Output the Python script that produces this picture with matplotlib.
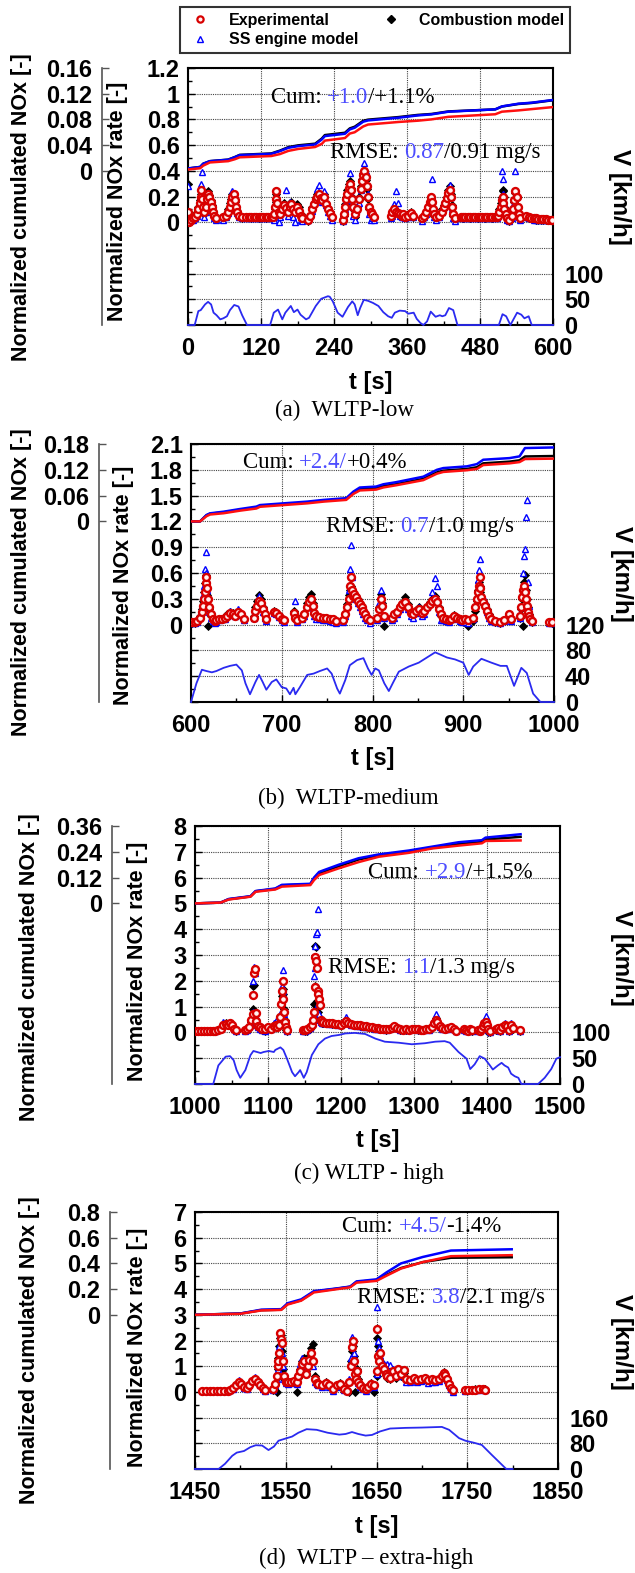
import numpy as np
import matplotlib
matplotlib.use("Agg")
import matplotlib.pyplot as plt
from matplotlib.lines import Line2D
from matplotlib.ticker import MultipleLocator

plt.rcParams['font.family'] = ['Liberation Sans', 'DejaVu Sans']
plt.rcParams['font.weight'] = 'bold'
SERIF = ['Liberation Serif', 'DejaVu Serif']

# ---------------- data ----------------
# (a) WLTP-low : normalized NOx rate
a_t = [0, 2, 5, 9, 12, 15, 17, 19, 21, 22, 23, 25, 27, 29, 31, 33, 35, 37, 39, 41, 43, 46,
       58, 62, 66, 69, 71, 73, 75, 77, 79, 81, 84, 88,
       96, 100, 104, 108, 112, 116, 120, 124, 128, 132, 136, 140,
       142, 143, 144, 145, 147, 149, 152, 155, 158, 161, 164, 167, 170, 173, 176, 179, 182, 185, 188,
       198, 201, 204, 207, 210, 212, 215, 218, 221, 224, 227, 230, 233, 236,
       254, 256, 258, 260, 262, 264, 266, 268, 270, 272, 274, 278, 281, 284, 286, 288, 290, 292, 294, 296, 298, 300, 303, 306,
       333, 336, 339, 342, 345, 348, 351, 354, 357, 362, 366, 370,
       385, 388, 391, 394, 397, 399, 401, 403, 405, 408, 413, 417, 420, 423, 426, 428, 430, 432, 434, 436, 439,
       448, 452, 456, 460, 464, 468, 472, 476, 480, 484, 488, 492, 496, 500, 504, 508,
       510, 512, 514, 516, 517, 518, 520, 522, 524, 528, 532, 534, 536, 538, 540, 542, 544, 546,
       556, 560, 564, 568, 572, 576, 580, 584, 588, 592, 596, 598]
a_exp = [0.08, 0.0, 0.02, 0.03, 0.04, 0.06, 0.10, 0.15, 0.20, 0.25, 0.18, 0.12, 0.08, 0.12, 0.18, 0.22, 0.20, 0.16, 0.12, 0.08, 0.05, 0.03,
         0.04, 0.05, 0.08, 0.12, 0.16, 0.20, 0.22, 0.17, 0.12, 0.08, 0.05, 0.04,
         0.04, 0.04, 0.04, 0.04, 0.04, 0.04, 0.04, 0.04, 0.04, 0.04, 0.04, 0.04,
         0.06, 0.12, 0.18, 0.24, 0.15, 0.08, 0.06, 0.10, 0.13, 0.11, 0.08, 0.12, 0.14, 0.10, 0.08, 0.12, 0.09, 0.05, 0.03,
         0.02, 0.05, 0.10, 0.14, 0.18, 0.20, 0.22, 0.19, 0.17, 0.20, 0.14, 0.10, 0.07, 0.04,
         0.02, 0.06, 0.12, 0.18, 0.22, 0.27, 0.30, 0.25, 0.18, 0.12, 0.06, 0.10, 0.18, 0.26, 0.32, 0.37, 0.40, 0.35, 0.28, 0.20, 0.12, 0.08, 0.06, 0.04,
         0.05, 0.08, 0.10, 0.08, 0.07, 0.06, 0.05, 0.06, 0.04, 0.05, 0.07, 0.05,
         0.03, 0.05, 0.08, 0.12, 0.16, 0.20, 0.16, 0.10, 0.06, 0.04, 0.05, 0.08, 0.12, 0.15, 0.19, 0.23, 0.25, 0.20, 0.12, 0.06, 0.03,
         0.04, 0.04, 0.04, 0.04, 0.04, 0.04, 0.04, 0.04, 0.04, 0.04, 0.04, 0.04, 0.04, 0.04, 0.04, 0.04,
         0.05, 0.08, 0.12, 0.17, 0.20, 0.15, 0.10, 0.06, 0.03, 0.02, 0.05, 0.10, 0.17, 0.24, 0.20, 0.12, 0.06, 0.03,
         0.05, 0.04, 0.035, 0.03, 0.03, 0.025, 0.025, 0.025, 0.025, 0.02, 0.02, 0.02]
a_comb = [0.30, 0.0, 0.01, 0.03, 0.04, 0.08, 0.12, 0.17, 0.19, 0.22, 0.20, 0.14, 0.06, 0.10, 0.20, 0.24, 0.21, 0.17, 0.13, 0.09, 0.05, 0.03,
          0.03, 0.06, 0.10, 0.15, 0.18, 0.22, 0.20, 0.16, 0.12, 0.09, 0.05, 0.03,
          0.04, 0.04, 0.035, 0.04, 0.04, 0.035, 0.04, 0.04, 0.035, 0.04, 0.04, 0.04,
          0.04, 0.10, 0.16, 0.22, 0.13, 0.06, 0.08, 0.12, 0.15, 0.12, 0.10, 0.15, 0.16, 0.12, 0.10, 0.14, 0.12, 0.06, 0.02,
          0.01, 0.04, 0.12, 0.15, 0.20, 0.22, 0.20, 0.20, 0.18, 0.22, 0.15, 0.11, 0.06, 0.03,
          0.01, 0.05, 0.14, 0.20, 0.25, 0.30, 0.32, 0.27, 0.20, 0.10, 0.04, 0.12, 0.20, 0.28, 0.34, 0.38, 0.39, 0.33, 0.26, 0.18, 0.10, 0.06, 0.05, 0.03,
          0.04, 0.07, 0.09, 0.08, 0.06, 0.05, 0.06, 0.05, 0.04, 0.06, 0.08, 0.04,
          0.02, 0.04, 0.08, 0.12, 0.15, 0.18, 0.15, 0.10, 0.05, 0.03, 0.06, 0.10, 0.13, 0.16, 0.20, 0.25, 0.28, 0.22, 0.13, 0.05, 0.02,
          0.04, 0.035, 0.04, 0.04, 0.035, 0.04, 0.04, 0.035, 0.04, 0.04, 0.035, 0.04, 0.04, 0.035, 0.04, 0.04,
          0.06, 0.10, 0.15, 0.20, 0.24, 0.25, 0.20, 0.10, 0.04, 0.01, 0.04, 0.10, 0.16, 0.23, 0.19, 0.11, 0.05, 0.03,
          0.04, 0.03, 0.03, 0.025, 0.02, 0.02, 0.02, 0.02, 0.02, 0.02, 0.02, 0.02]
a_ss = [0.28, 0.01, 0.02, 0.02, 0.03, 0.05, 0.10, 0.16, 0.22, 0.30, 0.39, 0.10, 0.04, 0.08, 0.16, 0.23, 0.22, 0.15, 0.10, 0.06, 0.03, 0.02,
        0.02, 0.04, 0.07, 0.14, 0.19, 0.24, 0.21, 0.15, 0.10, 0.07, 0.04, 0.03,
        0.03, 0.035, 0.03, 0.035, 0.03, 0.03, 0.035, 0.03, 0.03, 0.035, 0.03, 0.03,
        0.02, 0.08, 0.15, 0.20, 0.10, 0.00, 0.04, 0.08, 0.14, 0.25, 0.05, 0.16, 0.12, 0.04, 0.00, 0.10, 0.08, 0.02, 0.01,
        0.02, 0.06, 0.09, 0.16, 0.19, 0.26, 0.29, 0.18, 0.16, 0.24, 0.13, 0.08, 0.05, 0.02,
        0.01, 0.04, 0.10, 0.17, 0.23, 0.28, 0.38, 0.22, 0.15, 0.05, 0.02, 0.10, 0.15, 0.25, 0.33, 0.41, 0.46, 0.40, 0.30, 0.22, 0.06, 0.02, 0.03, 0.02,
        0.03, 0.05, 0.14, 0.24, 0.15, 0.05, 0.04, 0.04, 0.03, 0.04, 0.06, 0.04,
        0.01, 0.04, 0.06, 0.10, 0.15, 0.19, 0.34, 0.08, 0.04, 0.02, 0.04, 0.08, 0.12, 0.17, 0.22, 0.26, 0.29, 0.20, 0.10, 0.03, 0.01,
        0.03, 0.035, 0.03, 0.03, 0.035, 0.03, 0.03, 0.035, 0.03, 0.03, 0.035, 0.03, 0.03, 0.035, 0.03, 0.03,
        0.05, 0.10, 0.20, 0.40, 0.34, 0.22, 0.15, 0.08, 0.02, 0.01, 0.03, 0.09, 0.15, 0.40, 0.22, 0.10, 0.04, 0.02,
        0.04, 0.03, 0.03, 0.02, 0.02, 0.02, 0.02, 0.02, 0.02, 0.015, 0.015, 0.015]
# (a) normalized cumulated NOx
a_cum_t = [0, 20, 25, 36, 66, 77, 85, 137, 151, 165, 181, 209, 220, 225, 258, 266, 274, 288, 296, 346, 378, 400, 428, 505, 516, 543, 565, 598]
a_cum_exp = [0.002, 0.004, 0.008, 0.013, 0.015, 0.018, 0.021, 0.023, 0.026, 0.031, 0.034, 0.037, 0.042, 0.047, 0.051, 0.058, 0.06, 0.069, 0.072, 0.076, 0.078, 0.08, 0.084, 0.088, 0.092, 0.094, 0.096, 0.099]
a_cum_comb = [0.0036, 0.006, 0.011, 0.015, 0.0174, 0.0214, 0.0248, 0.027, 0.0314, 0.0368, 0.0396, 0.0422, 0.0502, 0.0556, 0.0592, 0.066, 0.0686, 0.0778, 0.0796, 0.0836, 0.087, 0.0884, 0.0924, 0.0956, 0.1, 0.104, 0.1056, 0.1096]
a_cum_ss = [0.0036, 0.006, 0.011, 0.015, 0.0172, 0.0212, 0.0244, 0.0264, 0.0306, 0.0358, 0.0384, 0.041, 0.0488, 0.054, 0.0576, 0.0644, 0.067, 0.0764, 0.0784, 0.0826, 0.0862, 0.0878, 0.092, 0.0956, 0.1002, 0.1044, 0.106, 0.110]
# (a) vehicle speed
a_v_t = [0, 11, 17, 21, 28, 33, 38, 42, 47, 53, 58, 64, 69, 76, 83, 89, 97, 135, 141, 148, 155, 160, 169, 174, 180, 185, 194, 199, 210, 219,
         230, 233, 238, 246, 254, 263, 270, 274, 279, 283, 289, 296, 304, 313, 321, 329, 335, 340, 348, 357, 362, 371, 376, 382, 387, 393, 399, 407, 414, 418,
         423, 429, 436, 443, 511, 517, 523, 530, 535, 541, 548, 553, 560, 565, 600]
a_v = [0, 0, 27, 29, 40, 45, 40, 24, 19, 11, 13, 17, 29, 39, 36, 19, 0, 0, 24, 30, 11, 24, 37, 25, 30, 20, 11, 14, 37, 51,
       56, 55, 46, 24, 16, 35, 46, 40, 19, 33, 49, 47, 43, 37, 25, 17, 14, 24, 28, 27, 22, 24, 12, 4, 0, 7, 26, 16, 19, 17,
       19, 33, 29, 0, 0, 21, 17, 0, 11, 24, 20, 13, 17, 0, 0]

# (b) WLTP-medium
b_t = [601, 604, 607, 610, 612, 613, 614, 615, 616, 617, 618, 619, 620, 622, 624, 626,
       628, 631, 634, 637, 640, 643, 646, 649, 652, 655, 658,
       669, 671, 673, 675, 677, 679, 681, 683,
       691, 694, 697, 700, 702,
       713, 715, 717, 722, 725, 728, 730, 732, 734, 736, 738, 741, 745, 749, 753, 757, 760,
       768, 770, 772, 774, 775, 776, 777, 778, 780, 782, 784, 786, 788, 790, 792, 794, 797,
       805, 807, 809, 811, 813,
       821, 824, 827, 830, 833, 836, 839, 842, 845, 848, 851, 854, 857, 860, 863, 866, 869, 871, 873, 875,
       878, 881, 884, 887, 890, 893, 896, 899, 902, 905,
       911, 913, 915, 916, 917, 918, 919, 920, 922, 924, 926, 928, 931, 935, 940, 945, 950, 953,
       962, 964, 965, 966, 967, 968, 969, 970, 971, 972, 974, 976,
       995, 998]
b_exp = [0.03, 0.03, 0.04, 0.08, 0.15, 0.22, 0.30, 0.38, 0.48, 0.55, 0.42, 0.30, 0.20, 0.12, 0.06, 0.04,
         0.05, 0.06, 0.07, 0.08, 0.10, 0.14, 0.12, 0.10, 0.15, 0.12, 0.07,
         0.08, 0.16, 0.22, 0.28, 0.25, 0.18, 0.12, 0.07,
         0.15, 0.14, 0.10, 0.07, 0.05,
         0.14, 0.08, 0.05, 0.08, 0.12, 0.20, 0.26, 0.30, 0.22, 0.14, 0.10, 0.09, 0.08, 0.08, 0.07, 0.06, 0.04,
         0.05, 0.12, 0.20, 0.30, 0.45, 0.55, 0.40, 0.33, 0.36, 0.32, 0.28, 0.24, 0.20, 0.16, 0.12, 0.08, 0.05,
         0.08, 0.18, 0.30, 0.22, 0.10,
         0.08, 0.12, 0.15, 0.20, 0.24, 0.26, 0.20, 0.14, 0.12, 0.16, 0.18, 0.14, 0.16, 0.20, 0.24, 0.28, 0.30, 0.26, 0.18, 0.12,
         0.08, 0.06, 0.05, 0.07, 0.10, 0.08, 0.06, 0.05, 0.06, 0.05,
         0.08, 0.20, 0.30, 0.38, 0.45, 0.55, 0.42, 0.32, 0.26, 0.22, 0.16, 0.10, 0.06, 0.04, 0.03, 0.05, 0.12, 0.06,
         0.10, 0.20, 0.32, 0.40, 0.45, 0.38, 0.30, 0.22, 0.15, 0.10, 0.06, 0.04,
         0.03, 0.03]
b_comb = [0.02, 0.02, 0.03, 0.10, 0.18, 0.28, 0.38, 0.48, 0.58, 0.50, 0.35, -0.02, 0.18, 0.10, 0.05, 0.03,
          0.04, 0.06, 0.07, 0.09, 0.12, 0.15, 0.13, 0.11, 0.14, 0.12, 0.06,
          0.10, 0.20, 0.28, 0.35, 0.30, 0.20, 0.12, 0.06,
          0.16, 0.15, 0.11, 0.06, 0.04,
          0.16, 0.10, 0.04, 0.10, 0.14, 0.25, 0.32, 0.36, 0.25, 0.12, 0.10, 0.09, 0.08, 0.07, 0.06, 0.05, 0.03,
          0.04, 0.14, 0.24, 0.34, 0.40, 0.45, 0.38, 0.36, 0.35, 0.33, 0.30, 0.25, 0.20, 0.16, 0.11, 0.07, 0.04,
          0.06, 0.20, 0.36, 0.25, -0.02,
          0.06, 0.10, 0.16, 0.22, 0.25, 0.32, 0.24, 0.15, 0.13, 0.17, 0.20, 0.15, 0.17, 0.22, 0.26, 0.30, 0.33, 0.28, 0.20, 0.10,
          0.07, 0.06, 0.05, 0.08, 0.11, 0.09, 0.06, 0.05, 0.04, -0.02,
          0.04, 0.16, 0.28, 0.40, 0.50, 0.45, 0.38, 0.30, 0.28, 0.24, 0.18, 0.12, 0.06, 0.03, 0.02, 0.05, 0.11, 0.05,
          0.08, 0.18, 0.30, -0.02, 0.50, 0.58, 0.40, 0.30, 0.20, 0.12, 0.05, 0.03,
          0.03, 0.02]
b_ss = [0.02, 0.02, 0.03, 0.12, 0.20, 0.35, 0.45, 0.65, 0.84, 0.60, 0.40, 0.25, 0.15, 0.08, 0.04, 0.02,
        0.03, 0.05, 0.06, 0.07, 0.10, 0.16, 0.11, 0.10, 0.18, 0.11, 0.05,
        0.08, 0.18, 0.25, 0.33, 0.28, 0.15, 0.08, 0.04,
        0.14, 0.12, 0.09, 0.05, 0.03,
        0.12, 0.28, 0.03, 0.06, 0.10, 0.20, 0.28, 0.30, 0.18, 0.10, 0.07, 0.06, 0.05, 0.05, 0.04, 0.03, 0.02,
        0.03, 0.10, 0.22, 0.40, 0.65, 0.92, 0.55, 0.40, 0.38, 0.30, 0.25, 0.20, 0.16, 0.12, 0.08, 0.05, 0.02,
        0.05, 0.25, 0.40, 0.28, 0.08,
        0.05, 0.08, 0.12, 0.18, 0.22, 0.25, 0.18, 0.10, 0.08, 0.14, 0.20, 0.10, 0.12, 0.20, 0.28, 0.38, 0.54, 0.45, 0.15, 0.05,
        0.05, 0.04, 0.03, 0.06, 0.10, 0.07, 0.04, 0.03, 0.03, 0.02,
        0.06, 0.22, 0.32, 0.52, 0.64, 0.76, 0.45, 0.30, 0.32, 0.28, 0.15, 0.08, 0.04, 0.03, 0.02, 0.04, 0.10, 0.04,
        0.08, 0.20, 0.35, 0.60, 0.80, 0.88, 1.25, 1.45, 0.50, 0.22, 0.08, 0.03,
        0.02, 0.02]
b_cum_t = [600, 610, 617, 621, 636, 654, 672, 676, 702, 728, 746, 771, 779, 786, 804, 812, 826, 856, 871, 878, 904, 915, 922, 951, 962, 968, 1000]
b_cum_exp = [0, 0, 0.012, 0.016, 0.019, 0.025, 0.03, 0.034, 0.038, 0.042, 0.046, 0.05, 0.064, 0.072, 0.074, 0.079, 0.084, 0.096, 0.111, 0.115, 0.119, 0.122, 0.131, 0.135, 0.138, 0.145, 0.146]
b_cum_comb = [0, 0, 0.014, 0.018, 0.021, 0.027, 0.032, 0.036, 0.04, 0.044, 0.048, 0.052, 0.066, 0.075, 0.077, 0.082, 0.0864, 0.099, 0.114, 0.118, 0.122, 0.126, 0.135, 0.139, 0.142, 0.151, 0.152]
b_cum_ss = [0, 0, 0.0148, 0.0188, 0.0226, 0.0288, 0.0344, 0.038, 0.042, 0.046, 0.05, 0.054, 0.0694, 0.0788, 0.081, 0.0864, 0.0912, 0.104, 0.12, 0.124, 0.128, 0.1332, 0.1434, 0.1472, 0.1512, 0.1706, 0.172]
b_v_t = [600, 606, 612, 617, 623, 628, 636, 643, 650, 656, 660, 665, 671, 675, 679, 683, 689, 694, 700, 705,
         709, 713, 715, 720, 728, 735, 742, 750, 755, 761, 764, 770, 775, 783, 790, 795, 799, 803, 807, 813,
         818, 823, 829, 840, 851, 860, 869, 874, 882, 891, 900, 906, 911, 920, 931, 941, 948, 956, 964, 970,
         977, 985, 1000]
b_v = [0, 29, 50, 48, 46, 48, 53, 56, 58, 49, 29, 12, 31, 42, 31, 19, 31, 35, 23, 21,
       12, 22, 12, 23, 42, 44, 48, 52, 44, 21, 13, 34, 57, 65, 68, 52, 42, 52, 49, 29,
       17, 31, 47, 55, 61, 69, 77, 74, 69, 66, 61, 42, 55, 67, 61, 56, 56, 25, 53, 45,
       13, 0, 0]

# (c) WLTP - high
c_t = [1000, 1004, 1008, 1012, 1016, 1020, 1024, 1028, 1032, 1036,
       1039, 1042, 1045, 1048, 1051, 1054, 1056,
       1068, 1071, 1074, 1077, 1079, 1080, 1081, 1082, 1083, 1084, 1086, 1089, 1092, 1096, 1100, 1104, 1108, 1111, 1113,
       1115, 1117, 1118, 1119, 1120, 1121, 1122, 1123, 1124, 1126,
       1148, 1151, 1154, 1157, 1160, 1162, 1163, 1164, 1165, 1166, 1167, 1168, 1169, 1170, 1171, 1172, 1174,
       1176, 1180, 1184, 1188, 1192, 1196, 1200, 1204, 1207, 1210, 1214, 1218, 1222, 1226, 1230, 1234, 1238, 1242, 1246, 1250, 1254, 1258,
       1262, 1266, 1270, 1273, 1277, 1281, 1285, 1289, 1293, 1297, 1301, 1305, 1309, 1313, 1317, 1321, 1325, 1328, 1330, 1332, 1335, 1339, 1343, 1347, 1351, 1355, 1358,
       1368, 1371, 1374, 1377, 1380,
       1388, 1390, 1392, 1394, 1396, 1398, 1400, 1402, 1404,
       1412, 1415, 1418, 1421, 1424, 1427, 1430, 1433, 1436, 1445]
c_exp = [0.06, 0.06, 0.06, 0.06, 0.06, 0.06, 0.06, 0.06, 0.08, 0.15,
         0.28, 0.32, 0.30, 0.35, 0.28, 0.15, 0.08,
         0.10, 0.15, 0.20, 0.50, 0.70, 1.45, 2.30, 2.44, 0.75, 0.45, 0.25, 0.20, 0.15, 0.12, 0.20, 0.15, 0.25, 0.30, 0.20,
         0.30, 0.60, 1.10, 1.60, 2.00, 1.30, 0.80, 0.40, 0.20, 0.10,
         0.10, 0.08, 0.12, 0.20, 0.30, 0.50, 0.80, 1.75, 2.93, 2.75, 2.50, 1.60, 1.50, 1.30, 1.05, 0.50, 0.40,
         0.40, 0.38, 0.36, 0.35, 0.34, 0.32, 0.30, 0.35, 0.45, 0.35, 0.32, 0.30, 0.28, 0.27, 0.25, 0.24, 0.22, 0.20, 0.18, 0.17, 0.15, 0.14,
         0.12, 0.14, 0.18, 0.25, 0.18, 0.12, 0.10, 0.12, 0.10, 0.14, 0.15, 0.12, 0.10, 0.11, 0.14, 0.13, 0.20, 0.35, 0.50, 0.40, 0.25, 0.18, 0.15, 0.18, 0.20, 0.15, 0.06,
         0.15, 0.10, 0.06, 0.12, 0.08,
         0.10, 0.05, 0.15, 0.25, 0.35, 0.40, 0.30, 0.15, 0.05,
         0.12, 0.18, 0.10, 0.20, 0.30, 0.25, 0.10, 0.28, 0.18, 0.08]
c_comb = [0.05, 0.05, 0.05, 0.05, 0.05, 0.05, 0.05, 0.06, 0.10, 0.20,
          0.30, 0.35, 0.32, 0.38, 0.30, 0.18, 0.05,
          0.08, 0.12, 0.20, 0.40, 0.90, 1.80, 1.85, 0.70, 0.50, 0.30, 0.20, 0.15, 0.10, 0.05, 0.15, 0.12, 0.30, 0.35, 0.20,
          0.25, 0.65, 1.05, 1.40, 1.70, 1.50, 0.90, 0.50, 0.10, 0.05,
          0.08, 0.06, 0.05, 0.15, 0.25, 0.40, 1.10, 1.80, 3.35, 3.30, 1.20, 1.00, 0.80, 0.60, 0.45, 0.40, 0.38,
          0.38, 0.37, 0.35, 0.34, 0.33, 0.31, 0.30, 0.36, 0.48, 0.36, 0.31, 0.29, 0.27, 0.26, 0.24, 0.23, 0.21, 0.19, 0.17, 0.16, 0.14, 0.13,
          0.11, 0.13, 0.17, 0.24, 0.17, 0.11, 0.09, 0.11, 0.09, 0.13, 0.14, 0.11, 0.09, 0.10, 0.13, 0.12, 0.22, 0.40, 0.55, 0.42, 0.25, 0.17, 0.14, 0.17, 0.19, 0.14, 0.05,
          0.12, 0.08, 0.05, 0.10, 0.06,
          0.08, 0.04, 0.12, 0.22, 0.30, 0.35, 0.20, 0.02, 0.00,
          0.10, 0.15, 0.05, 0.22, 0.28, 0.20, 0.05, 0.30, 0.15, 0.05]
c_ss = [0.05, 0.05, 0.05, 0.05, 0.05, 0.05, 0.05, 0.06, 0.12, 0.25,
        0.40, 0.38, 0.33, 0.42, 0.30, 0.15, 0.04,
        0.06, 0.10, 0.25, 0.30, 0.80, 2.00, 2.55, 2.30, 0.60, 0.40, 0.20, 0.15, 0.08, 0.06, 0.12, 0.15, 0.35, 0.45, 0.25,
        0.30, 0.70, 1.20, 1.80, 2.40, 1.60, 0.70, 0.30, 0.15, 0.05,
        0.06, 0.05, 0.10, 0.18, 0.35, 0.60, 2.20, 2.50, 3.35, 3.80, 3.90, 4.80, 1.10, 0.70, 0.50, 0.40, 0.38,
        0.36, 0.35, 0.33, 0.32, 0.31, 0.29, 0.30, 0.40, 0.60, 0.38, 0.30, 0.27, 0.25, 0.24, 0.22, 0.21, 0.19, 0.17, 0.15, 0.14, 0.12, 0.12,
        0.10, 0.12, 0.16, 0.22, 0.16, 0.10, 0.08, 0.10, 0.08, 0.12, 0.13, 0.10, 0.08, 0.09, 0.12, 0.11, 0.25, 0.50, 0.70, 0.45, 0.22, 0.15, 0.12, 0.15, 0.17, 0.12, 0.04,
        0.10, 0.07, 0.04, 0.08, 0.05,
        0.06, 0.05, 0.20, 0.30, 0.45, 0.62, 0.35, 0.10, 0.03,
        0.08, 0.12, 0.06, 0.25, 0.35, 0.20, 0.06, 0.38, 0.20, 0.04]
c_cum_t = [1000, 1035, 1046, 1076, 1083, 1110, 1119, 1158, 1163, 1170, 1197, 1224, 1252, 1293, 1325, 1361, 1393, 1398, 1446]
c_cum_exp = [0, 0.0036, 0.018, 0.0312, 0.054, 0.0648, 0.078, 0.0852, 0.108, 0.132, 0.1632, 0.192, 0.2172, 0.2352, 0.2556, 0.2688, 0.2796, 0.2904, 0.2928]
c_cum_comb = [0, 0.0036, 0.0192, 0.0324, 0.0564, 0.0672, 0.084, 0.0888, 0.1152, 0.1404, 0.1728, 0.204, 0.2232, 0.24, 0.258, 0.276, 0.2856, 0.2976, 0.3096]
c_cum_ss = [0, 0.0036, 0.0204, 0.0336, 0.0576, 0.0696, 0.0864, 0.0912, 0.12, 0.1464, 0.18, 0.21, 0.228, 0.246, 0.264, 0.2844, 0.294, 0.306, 0.3216]
c_v_t = [1000, 1025, 1032, 1042, 1048, 1053, 1057, 1062, 1069, 1076, 1080, 1090, 1094, 1101, 1108, 1110, 1117, 1121, 1126, 1133,
         1137, 1142, 1144, 1149, 1153, 1160, 1169, 1178, 1187, 1197, 1206, 1219, 1233, 1247, 1260, 1279, 1297, 1315, 1329, 1342,
         1349, 1361, 1372, 1377, 1383, 1390, 1397, 1404, 1408, 1415, 1420, 1424, 1429, 1433, 1438, 1443, 1447, 1470, 1479, 1488,
         1495, 1500]
c_v = [0, 0, 36, 53, 54, 46, 27, 12, 27, 56, 64, 60, 62, 64, 62, 66, 71, 66, 49, 23,
       15, 23, 27, 12, 23, 56, 77, 88, 93, 95, 98, 99, 97, 88, 82, 80, 77, 79, 82, 83,
       80, 62, 49, 29, 38, 54, 49, 36, 28, 36, 41, 36, 32, 20, 15, 12, 0, 0, 12, 29,
       49, 52]

# (d) WLTP - extra-high
d_t = [1458, 1462, 1466, 1470, 1474, 1478, 1482, 1486,
       1489, 1492, 1495, 1498, 1501, 1504, 1507, 1510, 1513, 1516, 1519, 1522, 1525, 1527,
       1536, 1538, 1540, 1541, 1542, 1543, 1544, 1545, 1546, 1547, 1548,
       1550, 1553, 1556, 1559, 1562, 1564, 1566, 1568, 1570, 1572, 1574, 1576, 1578, 1580, 1582, 1584, 1586,
       1590, 1594, 1598, 1602, 1606, 1610, 1614, 1618,
       1620, 1622, 1623, 1624, 1625, 1626, 1627, 1628, 1630, 1632, 1635, 1638, 1641, 1644, 1647,
       1650, 1651, 1652, 1653, 1654, 1656, 1658, 1660, 1662, 1665, 1668, 1671, 1674, 1677, 1680,
       1683, 1687, 1691, 1695, 1699, 1703, 1707, 1711, 1715, 1719,
       1722, 1724, 1726, 1728, 1730, 1732, 1734,
       1747, 1751, 1755, 1759, 1763, 1767, 1770]
d_exp = [0.05, 0.05, 0.05, 0.05, 0.05, 0.05, 0.05, 0.05,
         0.08, 0.15, 0.28, 0.38, 0.30, 0.18, 0.15, 0.28, 0.42, 0.50, 0.40, 0.28, 0.15, 0.06,
         0.10, 0.30, 0.60, 1.00, 1.20, 1.50, 2.30, 2.05, 1.90, 1.20, 0.60,
         0.40, 0.38, 0.40, 0.42, 0.38, 0.60, 0.80, 1.10, 1.20, 0.70, 1.00, 1.25, 1.50, 1.20, 0.50, 0.35, 0.30,
         0.25, 0.35, 0.25, 0.10, 0.25, 0.32, 0.12, 0.05,
         0.40, 1.00, 1.75, 1.98, 1.20, 0.70, 0.50, 0.80, 0.40, 0.25, 0.15, 0.10, 0.20, 0.30, 0.25,
         0.80, 2.45, 1.40, 1.20, 1.50, 1.00, 0.90, 0.70, 0.60, 0.55, 0.80, 0.60, 0.90, 0.70, 0.85,
         0.50, 0.48, 0.55, 0.45, 0.50, 0.55, 0.45, 0.50, 0.48, 0.52,
         0.60, 0.75, 0.65, 0.50, 0.30, 0.15, 0.08,
         0.06, 0.07, 0.08, 0.09, 0.10, 0.10, 0.08]
d_comb = [0.05, 0.05, 0.05, 0.05, 0.05, 0.05, 0.05, 0.05,
          0.07, 0.14, 0.30, 0.40, 0.32, 0.20, 0.17, 0.30, 0.44, 0.52, 0.42, 0.30, 0.17, 0.07,
          0.08, 0.25, 0.00, 0.90, 1.30, 1.80, 2.10, 2.20, 1.60, 0.90, 0.50,
          0.45, 0.40, 0.38, 0.40, 0.00, 0.55, 0.90, 1.20, 1.30, 0.80, 1.10, 1.40, 1.70, 1.85, 0.60, 0.40, 0.32,
          0.28, 0.38, 0.28, 0.12, 0.28, 0.35, 0.15, 0.06,
          0.00, 1.20, 1.60, 1.80, 1.40, 0.00, 0.60, 0.90, 0.50, 0.30, 0.18, 0.12, 0.22, 0.35, 0.00,
          0.60, 2.10, 1.80, 1.60, 1.20, 1.00, 0.80, 0.65, 0.55, 0.50, 0.70, 0.55, 0.80, 0.60, 0.75,
          0.48, 0.46, 0.52, 0.44, 0.48, 0.52, 0.44, 0.48, 0.46, 0.50,
          0.62, 0.78, 0.68, 0.55, 0.35, 0.20, 0.05,
          0.07, 0.08, 0.09, 0.10, 0.11, 0.12, 0.10]
d_ss = [0.04, 0.04, 0.04, 0.04, 0.04, 0.04, 0.04, 0.04,
        0.06, 0.12, 0.32, 0.45, 0.30, 0.15, 0.12, 0.26, 0.45, 0.58, 0.40, 0.25, 0.12, 0.04,
        0.08, 0.28, 0.50, 0.90, 1.30, 1.80, 2.20, 2.00, 1.50, 1.00, 0.50,
        0.35, 0.32, 0.35, 0.38, 0.30, 0.70, 1.10, 1.30, 1.20, 0.90, 1.05, 1.30, 1.40, 1.00, 0.40, 0.30, 0.28,
        0.20, 0.30, 0.20, 0.05, 0.20, 0.28, 0.08, 0.02,
        0.50, 1.30, 2.15, 2.00, 1.50, 0.90, 0.70, 0.60, 0.35, 0.20, 0.10, 0.05, 0.15, 0.25, 0.20,
        0.70, 3.30, 2.00, 1.70, 1.40, 1.20, 1.10, 1.00, 1.10, 1.05, 0.90, 0.60, 0.80, 0.60, 0.70,
        0.40, 0.38, 0.45, 0.38, 0.42, 0.45, 0.36, 0.40, 0.40, 0.42,
        0.55, 0.70, 0.62, 0.45, 0.25, 0.10, 0.00,
        0.05, 0.06, 0.07, 0.08, 0.09, 0.10, 0.08]
d_cum_t = [1450, 1500, 1523, 1545, 1552, 1567, 1581, 1607, 1621, 1628, 1650, 1661, 1677, 1701, 1732, 1799]
d_cum_exp = [0, 0.008, 0.034, 0.038, 0.08, 0.11, 0.174, 0.2, 0.214, 0.25, 0.264, 0.304, 0.36, 0.41, 0.456, 0.464]
d_cum_comb = [0, 0.01, 0.036, 0.04, 0.084, 0.114, 0.18, 0.204, 0.218, 0.256, 0.27, 0.31, 0.364, 0.41, 0.444, 0.448]
d_cum_ss = [0, 0.01, 0.04, 0.044, 0.09, 0.12, 0.184, 0.206, 0.22, 0.26, 0.276, 0.33, 0.4, 0.45, 0.5, 0.51]
d_v_t = [1450, 1476, 1483, 1491, 1496, 1504, 1511, 1517, 1524, 1531, 1537, 1542, 1550, 1557, 1564, 1573, 1584, 1596, 1609, 1616,
         1623, 1630, 1638, 1645, 1654, 1665, 1682, 1700, 1711, 1722, 1730, 1741, 1748, 1757, 1766, 1777, 1793, 1800]
d_v = [0, 0, 16, 41, 51, 56, 68, 74, 73, 59, 70, 88, 95, 101, 113, 124, 122, 113, 107, 109,
       115, 109, 104, 106, 117, 126, 128, 129, 130, 131, 122, 96, 88, 82, 75, 44, 0, 0]

# tick values
a_xticks = [0, 120, 240, 360, 480, 600]
a_rate_ticks = [-0.8, -0.6, -0.4, -0.2, 0, 0.2, 0.4, 0.6, 0.8, 1.0, 1.2]
a_cum_ticks = [0, 0.04, 0.08, 0.12, 0.16]
a_v_ticks = [0, 50, 100]
b_xticks = [600, 700, 800, 900, 1000]
b_rate_ticks = [-0.9, -0.6, -0.3, 0, 0.3, 0.6, 0.9, 1.2, 1.5, 1.8, 2.1]
b_cum_ticks = [0, 0.06, 0.12, 0.18]
b_v_ticks = [0, 40, 80, 120]
c_xticks = [1000, 1100, 1200, 1300, 1400, 1500]
c_rate_ticks = [-2, -1, 0, 1, 2, 3, 4, 5, 6, 7, 8]
c_cum_ticks = [0, 0.12, 0.24, 0.36]
c_v_ticks = [0, 50, 100]
d_xticks = [1450, 1550, 1650, 1750, 1850]
d_rate_ticks = [-3, -2, -1, 0, 1, 2, 3, 4, 5, 6, 7]
d_cum_ticks = [0, 0.2, 0.4, 0.6, 0.8]
d_v_ticks = [0, 80, 160]

a_notes = [[("Cum: ", "k"), ("+1.0", "#4d4dff"), ("/+1.1%", "k")],
           [("RMSE: ", "k"), ("0.87", "#4d4dff"), ("/0.91 mg/s", "k")]]
b_notes = [[("Cum: ", "k"), ("+2.4/", "#4d4dff"), ("+0.4%", "k")],
           [("RMSE: ", "k"), ("0.7", "#4d4dff"), ("/1.0 mg/s", "k")]]
c_notes = [[("Cum: ", "k"), ("+2.9", "#4d4dff"), ("/+1.5%", "k")],
           [("RMSE: ", "k"), ("1.1", "#4d4dff"), ("/1.3 mg/s", "k")]]
d_notes = [[("Cum: ", "k"), ("+4.5/", "#4d4dff"), ("-1.4%", "k")],
           [("RMSE: ", "k"), ("3.8", "#4d4dff"), ("/2.1 mg/s", "k")]]
captions = ["(a)  WLTP-low", "(b)  WLTP-medium", "(c) WLTP - high", "(d)  WLTP \u2013 extra-high"]

# ---------------- figure ----------------
W, H = 635, 1573
fig = plt.figure(figsize=(W / 100, H / 100), dpi=100)

RED = '#e00000'
BLUE = '#0000ff'
TICK = 17


def fmt(v):
    return '%g' % round(v, 3)


def draw_panel(lay, t, exp, comb, ss, cum_t, cum_exp, cum_comb, cum_ss, v_t, v,
               xticks, rate_ticks, cum_ticks, v_ticks, notes, caption):
    l, r, top, bot = lay['box']
    ax = fig.add_axes([l / W, 1 - bot / H, (r - l) / W, (bot - top) / H])
    ax.set_xlim(xticks[0], xticks[-1])
    ax.set_ylim(rate_ticks[0], rate_ticks[-1])
    ax.set_xticks(xticks)
    ax.set_xticklabels([fmt(x) for x in xticks])
    ax.xaxis.set_minor_locator(MultipleLocator((xticks[1] - xticks[0]) / 2))
    ax.set_yticks(rate_ticks)
    ax.set_yticklabels([fmt(y) if y >= 0 else '' for y in rate_ticks])
    ax.yaxis.set_minor_locator(MultipleLocator((rate_ticks[1] - rate_ticks[0]) / 2))
    ax.grid(True, which='major', ls=(0, (1, 1)), color='#444444', lw=0.8)
    ax.tick_params(which='both', direction='in', right=True, top=False, width=1)
    ax.tick_params(which='major', length=5, labelsize=TICK)
    ax.tick_params(which='minor', length=3)
    ax.tick_params(axis='x', pad=8.5)
    ax.tick_params(axis='y', pad=6)
    for s in ax.spines.values():
        s.set_linewidth(1.5)

    ax.plot(t, comb, ls='none', marker='D', ms=4.4, mfc='k', mec='k', mew=0.6, zorder=3)
    ax.plot(t, ss, ls='none', marker='^', ms=3.8, mfc='white', mec=BLUE, mew=1.0, zorder=4)
    ax.plot(t, exp, ls='none', marker='o', ms=5.0, mfc='#fff2f2', mec='#d80000', mew=1.7, zorder=5)

    # speed on the right
    axv = ax.twinx()
    ylo, yhi = rate_ticks[0], rate_ticks[-1]
    zero = rate_ticks.index(0)
    vstep = v_ticks[1] - v_ticks[0]
    vmax = vstep * (yhi - ylo) / (rate_ticks[1] - rate_ticks[0])
    axv.set_ylim(0, vmax)
    axv.set_yticks(v_ticks)
    axv.set_yticklabels([fmt(x) for x in v_ticks])
    axv.tick_params(axis='y', length=0, labelsize=TICK, pad=8)
    axv.plot(v_t, v, color='#2a2af0', lw=1.3, clip_on=False, zorder=3)
    for s in axv.spines.values():
        s.set_visible(False)

    # cumulated NOx on an offset left axis
    axc = ax.twinx()
    cstep = cum_ticks[1] - cum_ticks[0]
    rstep = rate_ticks[1] - rate_ticks[0]
    c0 = (ylo - rate_ticks[zero + lay['cum_zero']]) / rstep * cstep
    c1 = (yhi - rate_ticks[zero + lay['cum_zero']]) / rstep * cstep
    axc.set_ylim(c0, c1)
    axc.spines['left'].set_position(('axes', (lay['cum_x'] - l) / (r - l)))
    axc.spines['left'].set_visible(True)
    axc.spines['left'].set_color('#555555')
    axc.spines['left'].set_linewidth(1.2)
    for k in ('right', 'top', 'bottom'):
        axc.spines[k].set_visible(False)
    axc.yaxis.set_ticks_position('left')
    axc.set_yticks(cum_ticks)
    axc.set_yticklabels([fmt(x) for x in cum_ticks])
    axc.tick_params(axis='y', direction='in', length=5, width=1, color='#555555',
                    labelsize=TICK, pad=7)
    axc.plot(cum_t, cum_comb, color='k', lw=1.8, zorder=3)
    axc.plot(cum_t, cum_ss, color=BLUE, lw=1.8, zorder=4)
    axc.plot(cum_t, cum_exp, color='#ff1010', lw=1.8, zorder=5)

    # annotations (multi coloured)
    for (nx, ny), parts in zip(lay['notes'], notes):
        txt = axc.text(nx, ny, parts[0][0], transform=ax.transData, color=parts[0][1],
                       fontsize=16.5, family=SERIF, fontweight='normal',
                       ha='left', va='center', zorder=10)
        for s, c in parts[1:]:
            txt = axc.annotate(s, xy=(1, 0), xycoords=txt, color=c, fontsize=16.5,
                               family=SERIF, fontweight='normal', ha='left', va='bottom',
                               zorder=10)

    # labels
    cx, cy = lay['cum_lab']
    fig.text(cx / W, 1 - cy / H, 'Normalized cumulated NOx [-]', rotation=90,
             fontsize=15.5, ha='center', va='center')
    rx, ry = lay['rate_lab']
    fig.text(rx / W, 1 - ry / H, 'Normalized NOx rate [-]', rotation=90,
             fontsize=15.5, ha='center', va='center')
    vx, vy = lay['v_lab']
    fig.text(vx / W, 1 - vy / H, 'V [km/h]', rotation=270,
             fontsize=17.5, ha='center', va='center')
    fig.text(((l + r) / 2) / W, 1 - lay['xlab_y'] / H, 't [s]', fontsize=17,
             ha='center', va='center')
    kx, ky = lay['cap']
    fig.text(kx / W, 1 - ky / H, caption, fontsize=16.5, family=SERIF,
             fontweight='normal', ha='center', va='center')


lay_a = dict(box=(188, 553, 68, 325), cum_x=102, cum_zero=2, cum_lab=(22, 207), rate_lab=(118, 201),
             v_lab=(620, 197), xlab_y=383, cap=(344, 410), notes=[(136, 0.97), (233, 0.54)])
lay_b = dict(box=(191, 554, 444, 702), cum_x=99, cum_zero=4, cum_lab=(22, 582), rate_lab=(124, 585),
             v_lab=(621, 574), xlab_y=759, cap=(348, 798), notes=[(657, 1.88), (749, 1.135)])
lay_c = dict(box=(195, 560, 826, 1084), cum_x=112, cum_zero=5, cum_lab=(30, 967), rate_lab=(138, 961),
             v_lab=(622, 958), xlab_y=1141, cap=(369, 1173), notes=[(1237, 6.18), (1182, 2.53)])
lay_d = dict(box=(195, 558, 1212, 1469), cum_x=110, cum_zero=3, cum_lab=(30, 1350), rate_lab=(138, 1347),
             v_lab=(622, 1342), xlab_y=1526, cap=(366, 1558), notes=[(1612, 6.42), (1629, 3.69)])

draw_panel(lay_a, a_t, a_exp, a_comb, a_ss, a_cum_t, a_cum_exp, a_cum_comb, a_cum_ss, a_v_t, a_v,
           a_xticks, a_rate_ticks, a_cum_ticks, a_v_ticks, a_notes, captions[0])
draw_panel(lay_b, b_t, b_exp, b_comb, b_ss, b_cum_t, b_cum_exp, b_cum_comb, b_cum_ss, b_v_t, b_v,
           b_xticks, b_rate_ticks, b_cum_ticks, b_v_ticks, b_notes, captions[1])
draw_panel(lay_c, c_t, c_exp, c_comb, c_ss, c_cum_t, c_cum_exp, c_cum_comb, c_cum_ss, c_v_t, c_v,
           c_xticks, c_rate_ticks, c_cum_ticks, c_v_ticks, c_notes, captions[2])
draw_panel(lay_d, d_t, d_exp, d_comb, d_ss, d_cum_t, d_cum_exp, d_cum_comb, d_cum_ss, d_v_t, d_v,
           d_xticks, d_rate_ticks, d_cum_ticks, d_v_ticks, d_notes, captions[3])

# legend at the top
handles = [Line2D([], [], ls='none', marker='o', ms=4.5, mfc='#fff2f2', mec='#d80000', mew=1.6),
           Line2D([], [], ls='none', marker='^', ms=3.8, mfc='white', mec=BLUE, mew=1.0),
           Line2D([], [], ls='none', marker='D', ms=3.8, mfc='k', mec='k')]
labels = ['Experimental', 'SS engine model', 'Combustion model']
leg = fig.legend(handles, labels, loc='upper left', ncol=2, mode='expand',
                 bbox_to_anchor=(180 / W, 1 - 54 / H, 390 / W, 47 / H), borderaxespad=0,
                 fontsize=11.5, frameon=True, fancybox=False, edgecolor='k',
                 handlelength=1.8, handletextpad=0.9, labelspacing=0.3, borderpad=0.35)
leg.get_frame().set_linewidth(1.5)

fig.savefig('out.png', dpi=100)
